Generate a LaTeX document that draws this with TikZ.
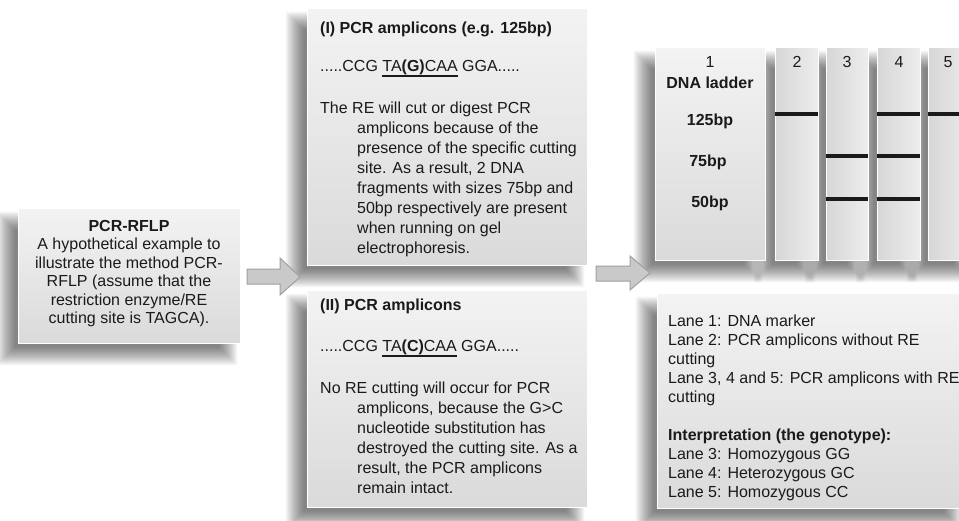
\documentclass[tikz,border=0pt]{standalone}
\usepackage{fontspec}
\setmainfont{Liberation Sans}
\usetikzlibrary{calc,backgrounds}
\definecolor{boxtop}{HTML}{F3F3F3}
\definecolor{boxbot}{HTML}{DADADA}
\definecolor{arrowfill}{HTML}{C9C9C9}
\definecolor{arrowline}{HTML}{A0A0A0}
\definecolor{ink}{HTML}{1A1A1A}
\newsavebox\ulbox
\newcommand\thickul[1]{\sbox\ulbox{#1}\rlap{\rule[-6pt]{\wd\ulbox}{2.5pt}}\usebox\ulbox}
\newcommand\softshadow[1]{%
  \foreach \r in {9,8,...,-9}{%
    \fill[black, opacity=0.032, rounded corners=2pt]
      ($(#1.north west)+(-12-\r,13-\r)$) rectangle ($(#1.south east)+(-12+\r,13+\r)$);
  }}
\tikzset{
  panel/.style={draw=white, line width=0.8pt, top color=boxtop, bottom color=boxbot, inner sep=0pt},
  lanebox/.style={panel, left color=gray!32, middle color=white!96!gray, right color=gray!14},
  txt/.style={inner sep=0pt, text=ink, font=\fontsize{16}{20}\selectfont},
  band/.style={line width=4pt, ink},
  blockarrow/.style={fill=arrowfill, draw=arrowline, line width=1pt, line join=miter}
}
\begin{document}
\begin{tikzpicture}[x=1pt,y=-1pt]
\useasboundingbox (0,0) rectangle (959,520);

% boxes
\node[panel, minimum width=222, minimum height=135] (intro) at (129,275.5) {};
\node[panel, minimum width=280, minimum height=257] (boxI) at (447,136.5) {};
\node[panel, minimum width=280, minimum height=217] (boxII) at (447,398.5) {};
\node[panel, minimum width=308, minimum height=215] (legend) at (811,400.5) {};

% gel lanes
\node[panel, minimum width=110, minimum height=213] (lane1) at (710,153.5) {};
\node[lanebox, minimum width=43, minimum height=213] (lane2) at (796.5,153.5) {};
\node[lanebox, minimum width=42, minimum height=213] (lane3) at (847,153.5) {};
\node[lanebox, minimum width=43, minimum height=213] (lane4) at (898.5,153.5) {};
\node[lanebox, minimum width=47, minimum height=213] (lane5) at (951.5,153.5) {};

\begin{pgfonlayer}{background}
  \fill[white] (0,0) rectangle (959,520);
  \softshadow{intro}
  \softshadow{boxI}
  \softshadow{boxII}
  \softshadow{legend}
  \softshadow{lane1}
  \softshadow{lane2}
  \softshadow{lane3}
  \softshadow{lane4}
  \softshadow{lane5}
\end{pgfonlayer}

% block arrows
\draw[blockarrow] (247,269) -- (280,269) -- (280,258) -- (300,277) -- (280,295) -- (280,284) -- (247,284) -- cycle;
\draw[blockarrow] (596,266) -- (630,266) -- (630,256) -- (650,273) -- (630,290) -- (630,281) -- (596,281) -- cycle;

% intro text
\node[txt, anchor=base] (introtxt) at (129,231) {\parbox[t]{220pt}{\centering\fontsize{16}{18.5}\selectfont
\textbf{PCR-RFLP}\\A hypothetical example to\\illustrate the method PCR-\\RFLP (assume that the\\restriction enzyme/RE\\cutting site is TAGCA).}};

% box I text
\node[txt, anchor=base west] (titleI) at (320,33) {\textbf{(I) PCR amplicons (e.g. 125bp)}};
\node[txt, anchor=base west] (seqI) at (320,71) {.....CCG \thickul{TA\textbf{(G)}CAA} GGA.....};
\node[txt, anchor=base west] (paraI) at (320,113) {\parbox[t]{265pt}{\fontsize{16}{20}\selectfont\hangindent=37pt\hangafter=1
The RE will cut or digest PCR\\amplicons because of the\\presence of the specific cutting\\site. As a result, 2 DNA\\fragments with sizes 75bp and\\50bp respectively are present\\when running on gel\\electrophoresis.}};

% box II text
\node[txt, anchor=base west] (titleII) at (320,310) {\textbf{(II) PCR amplicons}};
\node[txt, anchor=base west] (seqII) at (320,351) {.....CCG \thickul{TA\textbf{(C)}CAA} GGA.....};
\node[txt, anchor=base west] (paraII) at (320,393) {\parbox[t]{265pt}{\fontsize{16}{20}\selectfont\hangindent=37pt\hangafter=1
No RE cutting will occur for PCR\\amplicons, because the G>C\\nucleotide substitution has\\destroyed the cutting site. As a\\result, the PCR amplicons\\remain intact.}};

% legend text
\node[txt, anchor=base west] (legendtxt) at (668,326) {\parbox[t]{295pt}{\fontsize{16}{19}\selectfont\raggedright
Lane 1: DNA marker\\Lane 2: PCR amplicons without RE\\cutting\\Lane 3, 4 and 5: PCR amplicons with RE\\cutting\\[19pt]\textbf{Interpretation (the genotype):}\\Lane 3: Homozygous GG\\Lane 4: Heterozygous GC\\Lane 5: Homozygous CC}};

% gel labels
\node[txt, anchor=base] (n1) at (710,67) {1};
\node[txt, anchor=base] (ladder) at (710,88) {\textbf{DNA ladder}};
\node[txt, anchor=base] (m125) at (710,125) {\textbf{125bp}};
\node[txt, anchor=base] (m75) at (708,166) {\textbf{75bp}};
\node[txt, anchor=base] (m50) at (710,207) {\textbf{50bp}};
\node[txt, anchor=base] (n2) at (797,67) {2};
\node[txt, anchor=base] (n3) at (847,67) {3};
\node[txt, anchor=base] (n4) at (899,67) {4};
\node[txt, anchor=base] (n5) at (948,67) {5};

% bands
\draw[band] (775,114) -- (818,114);
\draw[band] (826,156) -- (868,156);
\draw[band] (826,199) -- (868,199);
\draw[band] (877,114) -- (920,114);
\draw[band] (877,156) -- (920,156);
\draw[band] (877,199) -- (920,199);
\draw[band] (928,114) -- (959,114);
\end{tikzpicture}
\end{document}
